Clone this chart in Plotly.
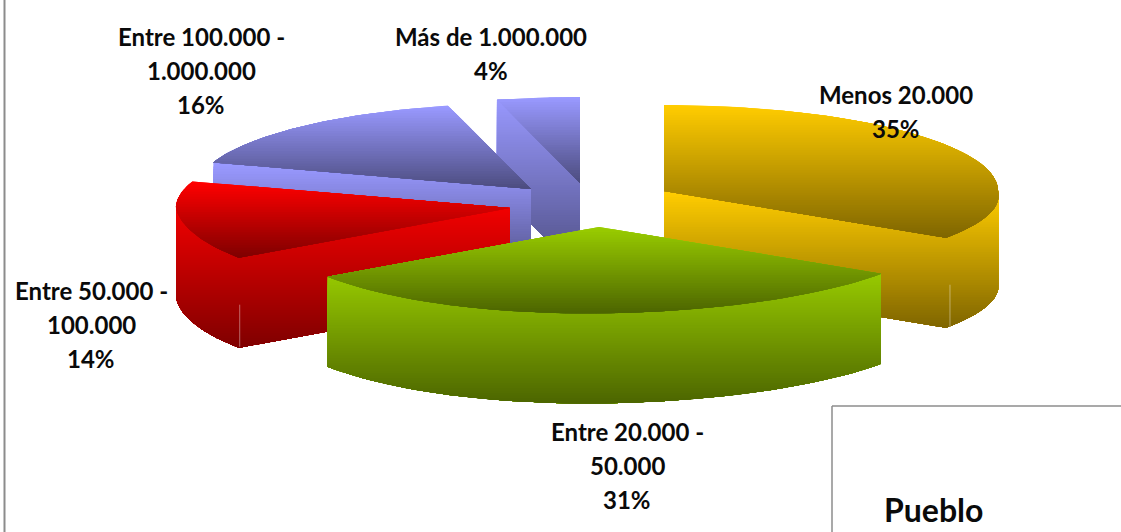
import math
import plotly.graph_objects as go

# data, clockwise from 12 o'clock
categories = ['Menos 20.000', 'Entre 20.000 -|50.000', 'Entre 50.000 -|100.000',
              'Entre 100.000 -|1.000.000', 'Más de 1.000.000']
values = [35, 31, 14, 16, 4]
chart_title = 'Pueblo'

# look of each slice, same order as categories
apex_x = [664, 599, 510, 531, 580]
apex_y = [191, 227, 208, 189, 183]
side_top = [192, 270, 190, 164, 97]
bright = [(255, 204, 0), (153, 204, 0), (255, 0, 0), (153, 153, 255), (153, 153, 255)]
dark = [(128, 102, 0), (77, 102, 0), (128, 0, 0), (77, 77, 128), (77, 77, 128)]
label_x = [896, 627, 91, 201, 491]
label_y = [94, 431, 290, 36, 36]
draw_order = [4, 3, 2, 0, 1]

RX, RY, DEPTH = 334, 86, 90
LINE_GAP = 34
FONT = 'Lato'


def sector(i):
    total = sum(values)
    start = 2 * math.pi * sum(values[:i]) / total
    end = 2 * math.pi * sum(values[:i + 1]) / total
    xs, ys = [apex_x[i]], [apex_y[i]]
    n = 60
    for k in range(n + 1):
        a = start + (end - start) * k / n
        u, v = math.sin(a), -math.cos(a)
        front = max(v, 0)
        # the near half of the disc leans a bit, as in the tilted 3D view
        xs.append(apex_x[i] + RX * u + 20 * front)
        ys.append(apex_y[i] + RY * v - 8 * u * front)
    return xs, ys


def hull(points):
    pts = sorted(set(points))

    def half(seq):
        out = []
        for p in seq:
            while len(out) > 1 and ((out[-1][0] - out[-2][0]) * (p[1] - out[-2][1])
                                    - (out[-1][1] - out[-2][1]) * (p[0] - out[-2][0])) <= 0:
                out.pop()
            out.append(p)
        return out[:-1]

    return half(pts) + half(pts[::-1])


def clip_below(points, y0):
    out = []
    for j, p in enumerate(points):
        q = points[(j + 1) % len(points)]
        if p[1] >= y0:
            out.append(p)
        if (p[1] >= y0) != (q[1] >= y0):
            t = (y0 - p[1]) / (q[1] - p[1])
            out.append((p[0] + t * (q[0] - p[0]), y0))
    return out


def add_gradient(fig, points, top, bottom, c0, c1):
    # painted from the top down, each band covers all that is below it
    n = int((bottom - top) / 2.5)
    for k in range(n):
        y0 = top + (bottom - top) * k / n
        poly = points if k == 0 else clip_below(points, y0)
        if len(poly) < 3:
            continue
        t = k / (n - 1)
        col = [round(a + (b - a) * t) for a, b in zip(c0, c1)]
        fig.add_trace(go.Scatter(
            x=[p[0] for p in poly] + [poly[0][0]],
            y=[p[1] for p in poly] + [poly[0][1]],
            mode='lines',
            line=dict(width=0),
            fill='toself',
            fillcolor='rgb(%d,%d,%d)' % tuple(col),
            hoverinfo='skip',
            showlegend=False,
        ))


fig = go.Figure()

for i in draw_order:
    xs, ys = sector(i)
    top_pts = list(zip(xs, ys))
    side_pts = hull(top_pts + [(x, y + DEPTH) for x, y in top_pts])
    add_gradient(fig, side_pts, side_top[i], max(ys) + DEPTH, bright[i], dark[i])
    add_gradient(fig, top_pts, min(ys), max(ys), bright[i], dark[i])

    # thin light seam on the rim of the two big front corners
    if i in (0, 2):
        cx, cy = xs[-1] if i == 0 else xs[1], ys[-1] if i == 0 else ys[1]
        fig.add_trace(go.Scatter(
            x=[cx + (4 if i == 0 else 1)] * 2, y=[cy + 47, cy + DEPTH - 1], mode='lines',
            line=dict(width=1, color='rgba(255,255,255,0.4)'),
            hoverinfo='skip', showlegend=False,
        ))

annotations = []
for i, name in enumerate(categories):
    lines = name.split('|') + ['%d%%' % values[i]]
    for k, line in enumerate(lines):
        annotations.append(dict(
            x=label_x[i], y=label_y[i] + k * LINE_GAP, text='<b>%s</b>' % line,
            showarrow=False, xanchor='center', yanchor='middle',
            font=dict(family=FONT, size=24, color='#0a0a0a'),
        ))
annotations.append(dict(
    x=882, y=509, text='<b>%s</b>' % chart_title, showarrow=False,
    xanchor='left', yanchor='middle', font=dict(family=FONT, size=32, color='#0a0a0a'),
))

shapes = [
    dict(type='line', x0=4.5, x1=4.5, y0=0, y1=532, line=dict(color='#8c8c8c', width=2)),
    dict(type='line', x0=832, x1=832, y0=406, y1=532, line=dict(color='#8c8c8c', width=1.5)),
    dict(type='line', x0=832, x1=1121, y0=406, y1=406, line=dict(color='#8c8c8c', width=1.5)),
]

fig.update_layout(
    width=1121,
    height=532,
    margin=dict(l=0, r=0, t=0, b=0),
    paper_bgcolor='white',
    plot_bgcolor='white',
    showlegend=False,
    annotations=annotations,
    shapes=shapes,
    xaxis=dict(range=[0, 1121], visible=False),
    yaxis=dict(range=[532, 0], visible=False),
)

fig.write_html('out.html', config=dict(displayModeBar=False),
               post_script="document.body.style.margin='0';document.body.style.overflow='hidden';")
